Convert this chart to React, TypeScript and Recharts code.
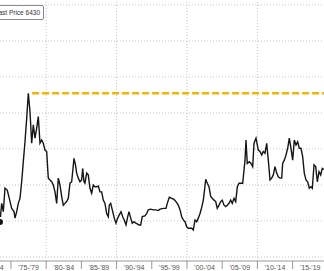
import React from "react";
import { LineChart, Line, XAxis, YAxis, ReferenceLine } from "recharts";

const years: number[] = [
  1973.44, 1973.68, 1973.91, 1974.15, 1974.47, 1974.76, 1975.1, 1975.43, 1975.57, 1975.81,
  1976.04, 1976.28, 1976.52, 1976.75, 1976.99, 1977.23, 1977.46, 1977.7, 1977.94, 1978.17,
  1978.41, 1978.65, 1978.88, 1979.12, 1979.36, 1979.59, 1979.83, 1980.07, 1980.3, 1980.54,
  1980.78, 1981.01, 1981.25, 1981.49, 1981.72, 1981.96, 1982.2, 1982.43, 1982.67, 1982.91,
  1983.14, 1983.38, 1983.62, 1983.95, 1984.16, 1984.33, 1984.56, 1984.8, 1985.04, 1985.18,
  1985.37, 1985.51, 1985.75, 1985.98, 1986.22, 1986.46, 1986.69, 1986.93, 1987.17, 1987.4,
  1987.64, 1987.88, 1988.11, 1988.35, 1988.59, 1988.82, 1988.96, 1989.16, 1989.39, 1989.67,
  1989.91, 1990.16, 1990.38, 1990.63, 1990.87, 1991.09, 1991.34, 1991.58, 1991.76, 1992.0,
  1992.23, 1992.47, 1992.71, 1992.94, 1993.18, 1993.42, 1993.65, 1994.03, 1994.28, 1994.5,
  1994.84, 1995.21, 1995.6, 1995.92, 1996.16, 1996.63, 1997.02, 1997.2, 1997.49, 1997.83,
  1998.15, 1998.44, 1998.76, 1999.01, 1999.25, 1999.47, 1999.72, 1999.96, 2000.18, 2000.43,
  2000.67, 2000.89, 2001.14, 2001.38, 2001.61, 2001.85, 2002.09, 2002.32, 2002.46, 2002.66,
  2002.88, 2003.13, 2003.37, 2003.59, 2003.84, 2004.08, 2004.3, 2004.55, 2004.79, 2005.01,
  2005.26, 2005.5, 2005.72, 2005.97, 2006.21, 2006.43, 2006.68, 2006.92, 2007.15, 2007.39,
  2007.63, 2007.91, 2008.24, 2008.38, 2008.56, 2008.85, 2009.09, 2009.33, 2009.52, 2009.8,
  2010.13, 2010.37, 2010.61, 2010.84, 2011.08, 2011.32, 2011.55, 2011.79, 2012.03, 2012.26,
  2012.5, 2012.74, 2012.97, 2013.21, 2013.45, 2013.59, 2013.82, 2014.06, 2014.3, 2014.53,
  2014.77, 2015.01, 2015.24, 2015.48, 2015.72, 2015.95, 2016.19, 2016.43, 2016.66, 2016.9,
  2017.14, 2017.37, 2017.61, 2017.8, 2018.04, 2018.28, 2018.51, 2018.75, 2018.99, 2019.22,
  2019.46,
];

const prices: number[] = [
  4970, 5490, 5260, 5910, 5860, 5630, 5350, 5260, 5080, 5260,
  5490, 5630, 6090, 6650, 7200, 7850, 8550, 8040, 7160, 7670,
  7300, 7580, 7900, 7160, 7250, 7160, 6970, 6930, 6190, 6140,
  6090, 6000, 5810, 5490, 6190, 6000, 5680, 5440, 5490, 5540,
  5630, 6050, 6090, 6740, 6560, 6330, 6190, 6090, 6140, 6460,
  6090, 6050, 6330, 6280, 5910, 5770, 6000, 5950, 5950, 5970,
  5810, 5810, 5580, 5490, 5210, 5120, 5440, 5490, 5310, 5080,
  4940, 5080, 5170, 5260, 5120, 5030, 4890, 5120, 5260, 5080,
  4940, 4980, 4940, 4920, 4890, 4890, 5120, 5140, 5210, 5310,
  5330, 5310, 5310, 5290, 5330, 5350, 5350, 5490, 5660, 5630,
  5600, 5540, 5440, 5310, 5120, 5030, 4980, 4840, 4800, 4800,
  4800, 4750, 5030, 4980, 5080, 5210, 5380, 5580, 5810, 6160,
  6050, 5950, 5680, 5630, 5580, 5540, 5350, 5440, 5540, 5580,
  5440, 5400, 5440, 5490, 5580, 5490, 5630, 5540, 5950, 6050,
  6050, 6050, 6690, 7250, 6600, 6650, 6600, 6510, 7160, 7300,
  6970, 6930, 6830, 6930, 6880, 7160, 6690, 6140, 6190, 6280,
  6510, 6330, 6230, 6190, 6190, 6600, 6690, 6830, 7020, 7300,
  7020, 6690, 7250, 7110, 7200, 7020, 7020, 6790, 6330, 6140,
  6090, 5910, 5950, 5910, 6560, 6510, 6090, 6370, 6280, 6460,
  6430,
];

const periodTicks: number[] = [1975, 1980, 1985, 1990, 1995, 2000, 2005, 2010, 2015];
const verticalGrid: number[] = [1980, 1990, 2000, 2010];
const horizontalGrid: number[] = [4000, 5000, 6000, 7000, 8000, 9000, 10000, 11000];
const peakValue = 8550;
const peakLineStart = 1978;
const lastPrice = 6430;
const xDomain: [number, number] = [1973.44, 2019.46];
const yDomain: [number, number] = [3889, 11139];

const data = years.map((year, i) => ({ year, price: prices[i] }));

const yy = (v: number) => {
  const s = String(v % 100);
  return s.length < 2 ? "0" + s : s;
};

const PeriodTick = (props: any) => {
  const { x, y, payload } = props;
  const v: number = payload.value;
  const half = 17.6;
  const lbl = (start: number) => `'${yy(start)}-'${yy(start + 4)}`;
  return (
    <g>
      <line x1={x} y1={y} x2={x} y2={y + 8} stroke="#999" strokeWidth={1} />
      <text x={x + half} y={y + 8.5} textAnchor="middle" fontSize={7} fill="#555">
        {lbl(v)}
      </text>
      {v === periodTicks[0] && (
        <text x={x - half} y={y + 8.5} textAnchor="middle" fontSize={7} fill="#555">
          {lbl(v - 5)}
        </text>
      )}
    </g>
  );
};

export default function App() {
  return (
    <div
      style={{
        position: "absolute",
        left: 0,
        top: 0,
        width: 324,
        height: 271,
        overflow: "hidden",
        background: "#fff",
        fontFamily: "'Liberation Sans', Arial, sans-serif",
      }}
    >
      <LineChart
        width={324}
        height={271}
        data={data}
        margin={{ top: 0, right: 0, bottom: 0, left: 0 }}
      >
        <XAxis
          dataKey="year"
          type="number"
          domain={xDomain}
          allowDataOverflow
          ticks={periodTicks}
          interval={0}
          height={10}
          tickSize={0}
          tickMargin={0}
          tickLine={false}
          axisLine={{ stroke: "#999", strokeWidth: 1 }}
          tick={<PeriodTick />}
        />
        <YAxis hide type="number" domain={yDomain} allowDataOverflow />
        {horizontalGrid.map((v) => (
          <ReferenceLine key={"h" + v} y={v} stroke="#c4c4c4" strokeDasharray="1 2" />
        ))}
        {verticalGrid.map((v) => (
          <ReferenceLine key={"v" + v} x={v} stroke="#c4c4c4" strokeDasharray="1 2" />
        ))}
        <ReferenceLine
          segment={[
            { x: peakLineStart, y: peakValue },
            { x: xDomain[1], y: peakValue },
          ]}
          stroke="#f5b400"
          strokeWidth={2.5}
          strokeDasharray="7 3"
        />
        <Line
          type="linear"
          dataKey="price"
          stroke="#151515"
          strokeWidth={1.4}
          dot={false}
          isAnimationActive={false}
        />
      </LineChart>
      <div
        style={{
          position: "absolute",
          top: 5,
          right: 280,
          height: 13,
          lineHeight: "13px",
          border: "1px solid #8a8a8a",
          borderRadius: 2,
          padding: "0 3px",
          fontSize: 6.5,
          color: "#333",
          background: "#fff",
          whiteSpace: "nowrap",
        }}
      >
        Last Price {lastPrice}
      </div>
    </div>
  );
}
